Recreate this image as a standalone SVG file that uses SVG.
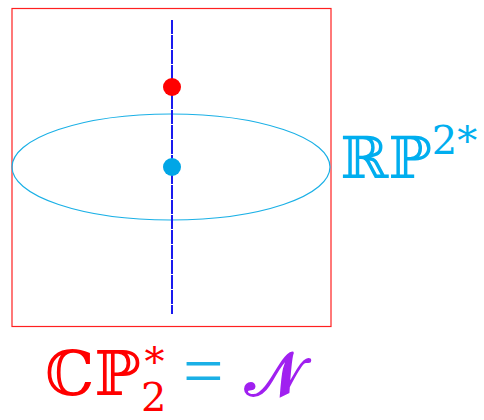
<svg xmlns="http://www.w3.org/2000/svg" width="484" height="420" viewBox="0 0 484 420">
<style>
.c{fill:#00aeef;font-family:"DejaVu Serif","Liberation Serif",serif}
.r{fill:#ff0000;font-family:"DejaVu Serif","Liberation Serif",serif}
</style>
<rect width="484" height="420" fill="#fff"/>
<g id="frame"><rect x="12" y="8.5" width="319" height="318" fill="none" stroke="#ff2020" stroke-width="1.2"/></g>
<g id="connectors">
<ellipse cx="171" cy="167" rx="159" ry="53" fill="none" stroke="#1ab0e6" stroke-width="1.2"/>
<line x1="172" y1="20" x2="172" y2="314" stroke="#1a1aee" stroke-width="2" stroke-dasharray="14 1"/>
</g>
<g id="red-point"><circle cx="172" cy="87" r="9" fill="#ff0000"/></g>
<g id="blue-point"><circle cx="172" cy="167" r="9" fill="#00a6e6"/></g>
<g id="rp-label"><text x="340" y="178" class="c" font-size="58">ℝℙ<tspan font-size="40" dy="-24">2*</tspan></text></g>
<g id="cp-label"><text x="45" y="395" class="r" font-size="62">ℂℙ<tspan font-size="40" dy="16">2</tspan><tspan font-size="40" dx="-22" dy="-36">*</tspan></text>
<text x="183" y="395" fill="#1ab0e6" font-family="Liberation Serif,serif" font-size="72">=</text>
<text x="245" y="395" fill="#a020f0" font-family="DejaVu Serif,'Noto Sans',serif" font-size="60" font-weight="bold">𝒩</text></g>
</svg>
